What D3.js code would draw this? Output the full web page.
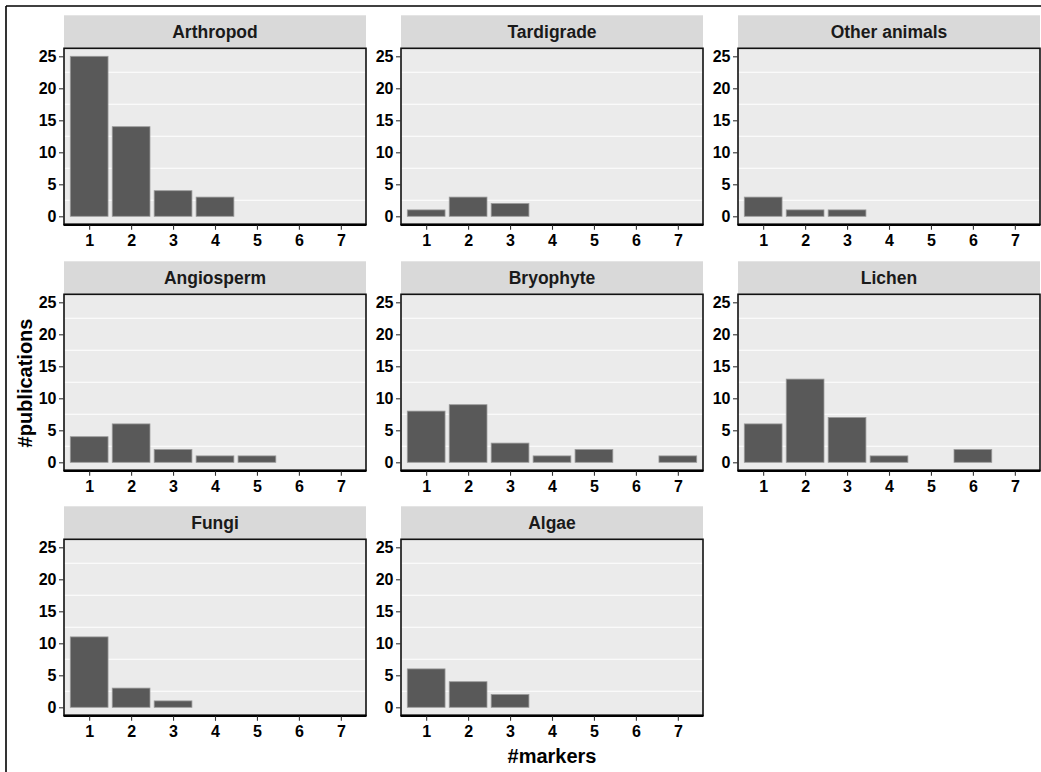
<!DOCTYPE html>
<html>
<head>
<meta charset="utf-8">
<script src="https://cdn.jsdelivr.net/npm/d3@7"></script>
<style>
  html, body { margin: 0; padding: 0; background: #fff; }
  svg { display: block; }
  text { font-family: "Liberation Sans", Arial, sans-serif; font-weight: bold; }
</style>
</head>
<body>
<svg id="chart" width="1041" height="772"></svg>
<script>
// ---- data ----
const markers = [1, 2, 3, 4, 5, 6, 7];
const panels = ["Arthropod", "Tardigrade", "Other animals", "Angiosperm", "Bryophyte", "Lichen", "Fungi", "Algae"];
const arthropod   = [25, 14, 4, 3, 0, 0, 0];
const tardigrade  = [1, 3, 2, 0, 0, 0, 0];
const otherAnimals= [3, 1, 1, 0, 0, 0, 0];
const angiosperm  = [4, 6, 2, 1, 1, 0, 0];
const bryophyte   = [8, 9, 3, 1, 2, 0, 1];
const lichen      = [6, 13, 7, 1, 0, 2, 0];
const fungi       = [11, 3, 1, 0, 0, 0, 0];
const algae       = [6, 4, 2, 0, 0, 0, 0];
const yTicks = [0, 5, 10, 15, 20, 25];
const yMinor = [2.5, 7.5, 12.5, 17.5, 22.5];
const xTitle = "#markers";
const yTitle = "#publications";

const series = [arthropod, tardigrade, otherAnimals, angiosperm, bryophyte, lichen, fungi, algae];

// ---- layout ----
const svg = d3.select("#chart");
const colLeft = [64, 401, 738];
const panelW = 302;
const stripH = 33;
const panelH = 176;
const rowStripTop = [15.3, 261.3, 506.3];

// outer frame (cropped)
svg.append("line").attr("x1", 6).attr("x2", 1041).attr("y1", 6).attr("y2", 6)
  .attr("stroke", "#000").attr("stroke-width", 1.6);
svg.append("line").attr("x1", 6).attr("x2", 6).attr("y1", 6).attr("y2", 772)
  .attr("stroke", "#000").attr("stroke-width", 1.6);

panels.forEach((name, i) => {
  const col = i % 3, row = Math.floor(i / 3);
  const left = colLeft[col];
  const stripTop = rowStripTop[row];
  const top = stripTop + stripH;
  const bottom = top + panelH;

  const x = d3.scaleLinear().domain([0.4, 7.6]).range([left, left + panelW]);
  const y = d3.scaleLinear().domain([-1.25, 26.25]).range([bottom, top]);

  const g = svg.append("g");

  // strip
  g.append("rect").attr("x", left).attr("y", stripTop).attr("width", panelW).attr("height", stripH)
    .attr("fill", "#d9d9d9");
  g.append("text").attr("x", left + panelW / 2).attr("y", stripTop + stripH / 2 + 6.5)
    .attr("text-anchor", "middle").attr("font-size", 17.5).attr("fill", "#1a1a1a").text(name);

  // panel bg
  g.append("rect").attr("x", left).attr("y", top).attr("width", panelW).attr("height", panelH)
    .attr("fill", "#ebebeb");

  // minor grid
  g.selectAll(".minor").data(yMinor).enter().append("line")
    .attr("x1", left).attr("x2", left + panelW)
    .attr("y1", d => y(d)).attr("y2", d => y(d))
    .attr("stroke", "#fff").attr("stroke-width", 1.1);

  // bars
  const vals = series[i];
  g.selectAll(".bar").data(markers.map((m, k) => ({ m, v: vals[k] })).filter(d => d.v > 0))
    .enter().append("rect")
    .attr("x", d => x(d.m - 0.45))
    .attr("width", d => x(d.m + 0.45) - x(d.m - 0.45))
    .attr("y", d => y(d.v))
    .attr("height", d => y(0) - y(d.v))
    .attr("fill", "#595959").attr("stroke", "#9a9a9a").attr("stroke-width", 0.8);

  // panel border
  g.append("rect").attr("x", left).attr("y", top).attr("width", panelW).attr("height", panelH)
    .attr("fill", "none").attr("stroke", "#111").attr("stroke-width", 1.6);
  // heavier bottom axis line
  g.append("line").attr("x1", left - 0.5).attr("x2", left + panelW + 0.5)
    .attr("y1", bottom + 0.5).attr("y2", bottom + 0.5)
    .attr("stroke", "#000").attr("stroke-width", 2.2);

  // y axis
  const yAxis = d3.axisLeft(y).tickValues(yTicks).tickSize(5).tickPadding(2.5);
  const ya = g.append("g").attr("transform", `translate(${left},0)`).call(yAxis);
  ya.select(".domain").remove();
  ya.selectAll(".tick line").attr("stroke", "#333").attr("stroke-width", 1.1);
  ya.selectAll(".tick text").attr("font-size", 16).attr("fill", "#000")
    .attr("font-family", "'Liberation Sans', Arial, sans-serif").attr("font-weight", "bold");

  // x axis
  const xAxis = d3.axisBottom(x).tickValues(markers).tickSize(4.5).tickPadding(5).tickFormat(d3.format("d"));
  const xa = g.append("g").attr("transform", `translate(0,${bottom + 1})`).call(xAxis);
  xa.select(".domain").remove();
  xa.selectAll(".tick line").attr("stroke", "#333").attr("stroke-width", 1.1);
  xa.selectAll(".tick text").attr("font-size", 16).attr("fill", "#000")
    .attr("font-family", "'Liberation Sans', Arial, sans-serif").attr("font-weight", "bold");
});

// axis titles
svg.append("text").attr("x", colLeft[1] + panelW / 2).attr("y", 763)
  .attr("text-anchor", "middle").attr("font-size", 20).attr("fill", "#000").text(xTitle);
svg.append("text").attr("transform", "translate(32,383) rotate(-90)")
  .attr("text-anchor", "middle").attr("font-size", 20).attr("fill", "#000").text(yTitle);
</script>
</body>
</html>
